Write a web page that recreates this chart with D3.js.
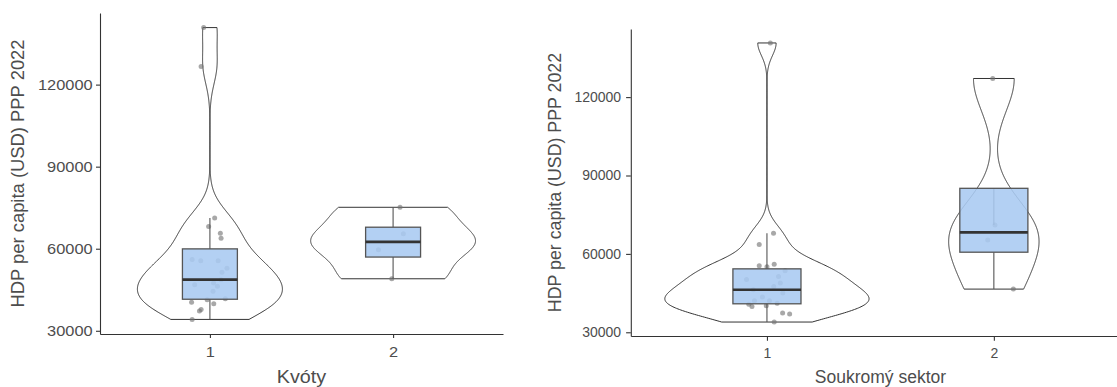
<!DOCTYPE html>
<html><head><meta charset="utf-8">
<script src="https://cdn.jsdelivr.net/npm/d3@7"></script>
<style>
body{margin:0;background:#fff}
svg{display:block}
text{font-family:"Liberation Sans",Arial,sans-serif}
</style>
</head><body>
<svg id="c" width="1117" height="387"></svg>
<script>
// ---------- data ----------
const categories = ["1", "2"];
const yTicks = [30000, 60000, 90000, 120000];
const yTitle = "HDP per capita (USD) PPP 2022";
const leftXTitle = "Kvóty";
const rightXTitle = "Soukromý sektor";

const kvoty1 = [140846, 126611, 71277, 68100, 65656, 63831, 56057, 55582, 52881, 51421, 48700,
  46822, 46311, 44486, 41712, 41347, 40471, 39887, 37807, 37186, 34157, 47500, 55570];
const kvoty1Jitter = [-0.034, -0.048, 0.026, -0.007, 0.057, 0.061, -0.097, 0.045, 0.093, 0.066, 0.061,
  -0.083, 0.041, 0.017, 0.084, -0.015, -0.1, 0.021, -0.048, -0.057, -0.097, 0.02, -0.05];
const kvoty2 = [75146, 65437, 59600, 49012];
const kvoty2Jitter = [0.038, 0.056, -0.08, -0.007];

const sektor1 = [140723, 67914, 63559, 56072, 55423, 51335, 48813, 42053, 42053, 40143, 39876,
  37355, 36973, 33917, 40700, 41100, 43500, 45000, 46254, 47500, 50200, 53500, 55050];
const sektor1Jitter = [0.015, 0.029, -0.034, 0.032, -0.034, 0.051, 0.059, -0.055, 0.011, -0.003, -0.066,
  0.069, 0.1, 0.032, -0.08, 0.045, -0.02, 0.07, -0.06, 0.03, -0.09, 0.08, 0.0];
const sektor2 = [127124, 71085, 65355, 46522];
const sektor2Jitter = [-0.005, 0.005, -0.027, 0.086];

// ---------- drawing ----------
const svg = d3.select("#c");
const BOX_FILL = "#a9c9f1", INK = "#333333", LABEL = "#4d4d4d";

function kde(values) {
  const n = values.length;
  const sd = d3.deviation(values);
  const iqr = (d3.quantile(values, 0.75) - d3.quantile(values, 0.25)) / 1.34;
  const bw = 0.9 * Math.min(sd, iqr) * Math.pow(n, -0.2);
  const [lo, hi] = d3.extent(values);
  const pts = [];
  for (let i = 0; i < 512; i++) {
    const t = lo + (hi - lo) * i / 511;
    let s = 0;
    for (const v of values) { const z = (t - v) / bw; s += Math.exp(-0.5 * z * z); }
    pts.push([t, s / (n * bw * Math.sqrt(2 * Math.PI))]);
  }
  return pts;
}

function panel(cfg) {
  const g = svg.append("g");
  const all = cfg.groups.flatMap(d => d.values);
  const [mn, mx] = d3.extent(all);
  const pad = (mx - mn) * 0.05;
  const y = d3.scaleLinear().domain([mn - pad, mx + pad]).range([cfg.bottom, cfg.top]);
  const x = d3.scaleLinear().domain([0.4, 2.6]).range([cfg.left, cfg.right]);

  const dens = cfg.groups.map(d => kde(d.values));
  const maxD = d3.max(dens, ds => d3.max(ds, p => p[1]));

  cfg.groups.forEach((grp, gi) => {
    const c = gi + 1;
    const ds = dens[gi];
    const line = d3.line().curve(d3.curveLinear);
    const right = ds.map(p => [x(c + 0.45 * p[1] / maxD), y(p[0])]);
    const left = ds.slice().reverse().map(p => [x(c - 0.45 * p[1] / maxD), y(p[0])]);
    g.append("path").attr("d", line(right.concat(left)) + "Z")
      .attr("fill", "white").attr("stroke", INK).attr("stroke-width", 1);

    // jittered points
    g.selectAll(null).data(grp.values).enter().append("circle")
      .attr("cx", (v, i) => x(c + grp.jitter[i]))
      .attr("cy", v => y(v))
      .attr("r", 2.5)
      .attr("fill", "#737373").attr("fill-opacity", 0.62);

    // box
    const q1 = d3.quantile(grp.values, 0.25), med = d3.quantile(grp.values, 0.5), q3 = d3.quantile(grp.values, 0.75);
    const iq = q3 - q1;
    const lowW = d3.min(grp.values.filter(v => v >= q1 - 1.5 * iq));
    const highW = d3.max(grp.values.filter(v => v <= q3 + 1.5 * iq));
    g.append("line").attr("x1", x(c)).attr("x2", x(c)).attr("y1", y(q3)).attr("y2", y(highW))
      .attr("stroke", "#555").attr("stroke-width", 1.1);
    g.append("line").attr("x1", x(c)).attr("x2", x(c)).attr("y1", y(q1)).attr("y2", y(lowW))
      .attr("stroke", "#555").attr("stroke-width", 1.1);
    g.append("rect").attr("x", x(c - 0.15)).attr("width", x(c + 0.15) - x(c - 0.15))
      .attr("y", y(q3)).attr("height", y(q1) - y(q3))
      .attr("fill", BOX_FILL).attr("fill-opacity", 0.88)
      .attr("stroke", "#555").attr("stroke-width", 1.3);
    g.append("line").attr("x1", x(c - 0.15)).attr("x2", x(c + 0.15)).attr("y1", y(med)).attr("y2", y(med))
      .attr("stroke", "#333").attr("stroke-width", 2.6);
  });

  // axes
  const ya = g.append("g").attr("transform", `translate(${cfg.left},0)`)
    .call(d3.axisLeft(y).tickValues(yTicks).tickFormat(d3.format("d")).tickSize(cfg.tick).tickSizeOuter(0).tickPadding(cfg.yPad));
  const xa = g.append("g").attr("transform", `translate(0,${cfg.bottom})`)
    .call(d3.axisBottom(x).tickValues([1, 2]).tickFormat(i => categories[i - 1]).tickSize(cfg.tick).tickSizeOuter(0).tickPadding(cfg.xPad));
  [ya, xa].forEach(a => {
    a.attr("font-family", null).attr("font-size", null);
    a.select(".domain").attr("stroke", INK).attr("stroke-width", 1.1);
    a.selectAll(".tick line").attr("stroke", INK).attr("stroke-width", 1.1);
    a.selectAll(".tick text").attr("fill", LABEL).style("font-size", cfg.tickFont + "px")
      .attr("transform", `scale(${cfg.sx},1)`);
  });

  // titles
  g.append("text").attr("transform", `translate(${(cfg.left + cfg.right) / 2},${cfg.xTitleY}) scale(${cfg.sx},1)`)
    .attr("text-anchor", "middle").attr("fill", LABEL).style("font-size", cfg.titleFont + "px").text(cfg.xTitle);
  g.append("text").attr("transform", `translate(${cfg.yTitleX},${(cfg.top + cfg.bottom) / 2}) rotate(-90)`)
    .attr("text-anchor", "middle").attr("fill", LABEL).style("font-size", cfg.yTitleFont + "px").text(yTitle);
}

panel({
  groups: [{values: kvoty1, jitter: kvoty1Jitter}, {values: kvoty2, jitter: kvoty2Jitter}],
  left: 100, right: 503, top: 13, bottom: 334,
  tick: 4, yPad: 2.5, xPad: 8.5, tickFont: 14.5, sx: 1.13,
  titleFont: 17.5, yTitleFont: 18.4, xTitle: leftXTitle, xTitleY: 382.5, yTitleX: 24
});
panel({
  groups: [{values: sektor1, jitter: sektor1Jitter}, {values: sektor2, jitter: sektor2Jitter}],
  left: 630.8, right: 1130, top: 29, bottom: 336,
  tick: 4.7, yPad: 5, xPad: 7.5, tickFont: 14, sx: 1,
  titleFont: 17.5, yTitleFont: 17.8, xTitle: rightXTitle, xTitleY: 382.5, yTitleX: 561
});
</script>
</body></html>
